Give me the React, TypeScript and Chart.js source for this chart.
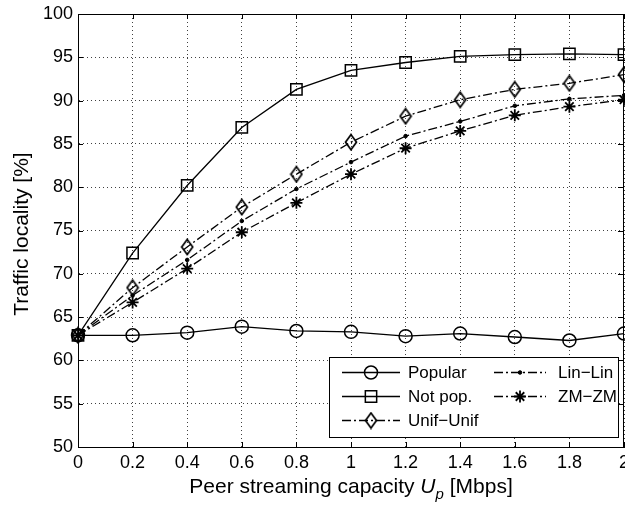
import React, { useEffect, useRef } from 'react';
import { Chart, registerables } from 'chart.js';
import { drawPoint } from 'chart.js/helpers';

Chart.register(...registerables);

// ---------- data ----------
const xValues = [0, 0.2, 0.4, 0.6, 0.8, 1.0, 1.2, 1.4, 1.6, 1.8, 2.0];
const popular = [62.9, 62.9, 63.2, 63.9, 63.4, 63.3, 62.8, 63.1, 62.7, 62.3, 63.1];
const notPopular = [62.9, 72.4, 80.2, 86.9, 91.3, 93.5, 94.4, 95.1, 95.3, 95.4, 95.3];
const unifUnif = [62.9, 68.4, 73.1, 77.7, 81.5, 85.2, 88.2, 90.1, 91.3, 92.0, 93.0];
const linLin = [62.9, 67.5, 71.6, 76.1, 79.8, 82.9, 85.9, 87.6, 89.4, 90.2, 90.6];
const zmZm = [62.9, 66.7, 70.6, 74.8, 78.2, 81.5, 84.5, 86.5, 88.3, 89.3, 90.1];

const seriesLabels = ['Popular', 'Not pop.', 'Unif\u2212Unif', 'Lin\u2212Lin', 'ZM\u2212ZM'];
const yMin = 50;
const yMax = 100;
const yStep = 5;
const xMin = 0;
const xMax = 2;
const xStep = 0.2;
const yTitle = 'Traffic locality [%]';
const xTitleParts = ['Peer streaming capacity ', 'U', 'p', ' [Mbps]'];

const FONT = '"Liberation Sans", Arial, Helvetica, sans-serif';

function makeDiamond(): HTMLCanvasElement {
  const c = document.createElement('canvas');
  const w = 14, h = 18;
  c.width = w; c.height = h;
  const ctx = c.getContext('2d')!;
  ctx.strokeStyle = '#000';
  ctx.lineWidth = 1.7;
  ctx.beginPath();
  ctx.moveTo(w / 2, 1.5);
  ctx.lineTo(w - 1.5, h / 2);
  ctx.lineTo(w / 2, h - 1.5);
  ctx.lineTo(1.5, h / 2);
  ctx.closePath();
  ctx.stroke();
  return c;
}

const dashDot = [9, 3, 2, 3];

const overlayPlugin = {
  id: 'overlay',
  afterDraw(chart: any) {
    const ctx = chart.ctx as CanvasRenderingContext2D;
    const { left, right, top, bottom } = chart.chartArea;
    const xs = chart.scales.x;
    const ys = chart.scales.y;
    ctx.save();
    // box
    ctx.strokeStyle = '#000';
    ctx.lineWidth = 1;
    ctx.setLineDash([]);
    ctx.strokeRect(Math.round(left) + 0.5, Math.round(top) + 0.5, Math.round(right - left) - 1, Math.round(bottom - top));
    // inner ticks
    const tl = 5;
    ctx.beginPath();
    for (let v = yMin; v <= yMax + 1e-9; v += yStep) {
      const py = Math.round(ys.getPixelForValue(v)) + 0.5;
      ctx.moveTo(left, py); ctx.lineTo(left + tl, py);
      ctx.moveTo(right - 1, py); ctx.lineTo(right - 1 - tl, py);
    }
    for (let i = 0; i <= Math.round((xMax - xMin) / xStep); i++) {
      const v = xMin + i * xStep;
      const px = Math.round(xs.getPixelForValue(v)) + 0.5;
      ctx.moveTo(px, bottom); ctx.lineTo(px, bottom - tl);
      ctx.moveTo(px, top); ctx.lineTo(px, top + tl);
    }
    ctx.stroke();

    // legend
    const lx = 329, ly = 357, lw = 289, lh = 80;
    ctx.fillStyle = '#fff';
    ctx.fillRect(lx, ly, lw, lh);
    ctx.strokeRect(lx + 0.5, ly + 0.5, lw, lh);
    const pos = [
      { x1: 342, x2: 400, tx: 408, y: 372 },
      { x1: 342, x2: 400, tx: 408, y: 396 },
      { x1: 342, x2: 400, tx: 408, y: 420 },
      { x1: 494, x2: 546, tx: 558, y: 372 },
      { x1: 494, x2: 546, tx: 558, y: 396 },
    ];
    ctx.font = `17px ${FONT}`;
    ctx.textBaseline = 'middle';
    ctx.textAlign = 'left';
    chart.data.datasets.forEach((ds: any, i: number) => {
      const p = pos[i];
      ctx.save();
      ctx.strokeStyle = '#000';
      ctx.lineWidth = ds.borderWidth;
      ctx.setLineDash(ds.borderDash || []);
      ctx.beginPath();
      ctx.moveTo(p.x1, p.y + 0.5);
      ctx.lineTo(p.x2, p.y + 0.5);
      ctx.stroke();
      ctx.setLineDash([]);
      ctx.lineWidth = ds.pointBorderWidth;
      ctx.fillStyle = ds.pointBackgroundColor;
      ctx.strokeStyle = '#000';
      drawPoint(ctx, { pointStyle: ds.pointStyle, radius: ds.pointRadius, rotation: 0, borderWidth: ds.pointBorderWidth }, Math.round((p.x1 + p.x2) / 2), p.y + 0.5);
      ctx.restore();
      ctx.fillStyle = '#000';
      ctx.fillText(ds.label, p.tx, p.y + 1);
    });

    // y title
    ctx.save();
    ctx.translate(22, 234);
    ctx.rotate(-Math.PI / 2);
    ctx.font = `21px ${FONT}`;
    ctx.textAlign = 'center';
    ctx.textBaseline = 'middle';
    ctx.fillStyle = '#000';
    ctx.fillText(yTitle, 0, 0);
    ctx.restore();

    // x title with italic U and subscript p
    const base = 493;
    const fMain = `21px ${FONT}`;
    const fIt = `italic 21px ${FONT}`;
    const fSub = `italic 15px ${FONT}`;
    ctx.textBaseline = 'alphabetic';
    ctx.textAlign = 'left';
    ctx.font = fMain; const w0 = ctx.measureText(xTitleParts[0]).width;
    ctx.font = fIt; const w1 = ctx.measureText(xTitleParts[1]).width;
    ctx.font = fSub; const w2 = ctx.measureText(xTitleParts[2]).width;
    ctx.font = fMain; const w3 = ctx.measureText(xTitleParts[3]).width;
    const total = w0 + w1 + w2 + w3;
    let cx = (left + right) / 2 - total / 2;
    ctx.fillStyle = '#000';
    ctx.font = fMain; ctx.fillText(xTitleParts[0], cx, base); cx += w0;
    ctx.font = fIt; ctx.fillText(xTitleParts[1], cx, base); cx += w1;
    ctx.font = fSub; ctx.fillText(xTitleParts[2], cx, base + 6); cx += w2;
    ctx.font = fMain; ctx.fillText(xTitleParts[3], cx, base);
    ctx.restore();
  },
};

export default function App() {
  const ref = useRef<HTMLCanvasElement | null>(null);
  useEffect(() => {
    if (!ref.current) return;
    const diamond = makeDiamond();
    const common = {
      borderColor: '#000',
      pointBorderColor: '#000',
      pointBackgroundColor: 'rgba(0,0,0,0)',
      borderWidth: 1.3,
      pointBorderWidth: 1.5,
      tension: 0,
      clip: false as any,
    };
    const toPts = (arr: number[]) => arr.map((y, i) => ({ x: xValues[i], y }));
    const chart = new Chart(ref.current, {
      type: 'line',
      data: {
        datasets: [
          { ...common, label: seriesLabels[0], data: toPts(popular), pointStyle: 'circle', pointRadius: 6.5 },
          { ...common, label: seriesLabels[1], data: toPts(notPopular), pointStyle: 'rect', pointRadius: 8 },
          { ...common, label: seriesLabels[2], data: toPts(unifUnif), pointStyle: diamond as any, pointRadius: 8, borderDash: dashDot },
          { ...common, label: seriesLabels[3], data: toPts(linLin), pointStyle: 'circle', pointRadius: 1.8, pointBackgroundColor: '#000', pointBorderWidth: 1, borderDash: dashDot },
          { ...common, label: seriesLabels[4], data: toPts(zmZm), pointStyle: 'star', pointRadius: 6, pointBorderWidth: 1.8, borderDash: dashDot },
        ] as any,
      },
      options: {
        responsive: false,
        animation: false,
        layout: { autoPadding: false, padding: { left: 0, top: 14, right: 1, bottom: 0 } },
        plugins: { legend: { display: false }, tooltip: { enabled: false } },
        scales: {
          x: {
            type: 'linear',
            min: xMin,
            max: xMax,
            afterFit: (s: any) => { s.height = 60; s.paddingLeft = 0; s.paddingRight = 0; },
            afterBuildTicks: (s: any) => {
              const t = [];
              for (let i = 0; i <= Math.round((xMax - xMin) / xStep); i++) t.push({ value: +(xMin + i * xStep).toFixed(1) });
              s.ticks = t;
            },
            ticks: {
              color: '#000',
              font: { family: FONT, size: 18 },
              padding: 5,
              maxRotation: 0,
              autoSkip: false,
              callback: (v: any) => String(+(+v).toFixed(1)),
            },
            grid: { color: 'rgba(0,0,0,0.75)', lineWidth: 1, drawTicks: false },
            border: { display: true, color: '#000', width: 1, dash: [1, 3] },
          },
          y: {
            type: 'linear',
            min: yMin,
            max: yMax,
            afterFit: (s: any) => { s.width = 78; s.paddingTop = 0; s.paddingBottom = 0; },
            ticks: {
              stepSize: yStep,
              color: '#000',
              font: { family: FONT, size: 18 },
              padding: 5,
            },
            grid: { color: 'rgba(0,0,0,0.75)', lineWidth: 1, drawTicks: false },
            border: { display: true, color: '#000', width: 1, dash: [1, 3] },
          },
        },
      },
      plugins: [overlayPlugin],
    });
    return () => chart.destroy();
  }, []);
  return (
    <div style={{ position: 'fixed', left: 0, top: 0, width: 625, height: 507, background: '#fff' }}>
      <canvas ref={ref} width={625} height={507} style={{ display: 'block' }} />
    </div>
  );
}
